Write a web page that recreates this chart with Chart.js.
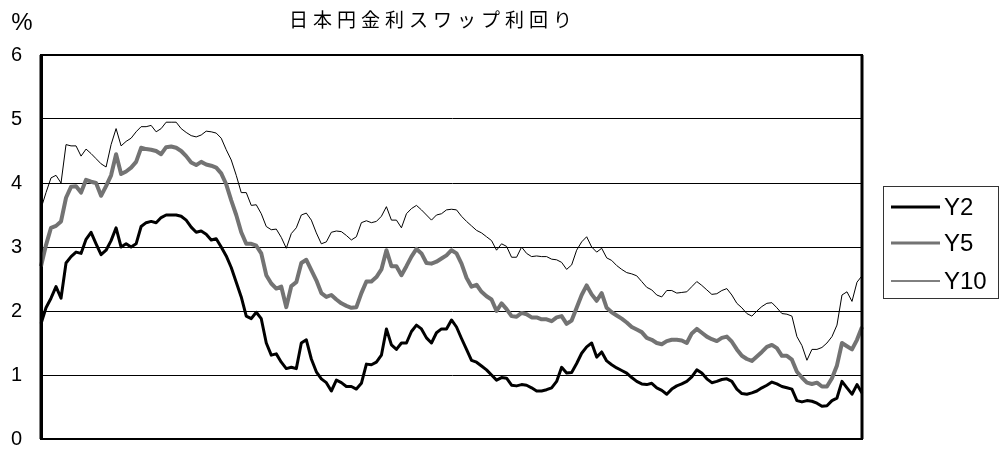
<!DOCTYPE html>
<html>
<head>
<meta charset="utf-8">
<script src="https://cdn.jsdelivr.net/npm/chart.js@4"></script>
<style>
  html, body { margin: 0; padding: 0; background: #fff; }
  canvas { display: block; }
</style>
</head>
<body>
<canvas id="myChart" width="1002" height="449"></canvas>
<script>
// values, one sample every ~5px along the time axis
const y2 = [
  1.8, 2.05, 2.2, 2.38, 2.2, 2.75, 2.85, 2.92, 2.9, 3.12,
  3.23, 3.05, 2.88, 2.95, 3.1, 3.3, 3.0, 3.05, 3.0, 3.05,
  3.32, 3.38, 3.4, 3.38, 3.46, 3.5, 3.5, 3.5, 3.48, 3.42,
  3.31, 3.23, 3.25, 3.2, 3.11, 3.13, 3.0, 2.86, 2.68, 2.45,
  2.22, 1.92, 1.88, 1.98, 1.88, 1.5, 1.31, 1.33, 1.2, 1.1,
  1.12, 1.1, 1.5, 1.55, 1.25, 1.05, 0.94, 0.88, 0.75, 0.92,
  0.88, 0.82, 0.82, 0.78, 0.87, 1.17, 1.16, 1.2, 1.31, 1.72,
  1.47, 1.4, 1.5, 1.5, 1.68, 1.78, 1.72, 1.58, 1.5, 1.66,
  1.72, 1.72, 1.86, 1.75, 1.57, 1.4, 1.23, 1.2, 1.14, 1.08,
  1.0, 0.92, 0.96, 0.95, 0.84, 0.83, 0.85, 0.84, 0.8, 0.75,
  0.75, 0.77, 0.8, 0.9, 1.12, 1.03, 1.04, 1.18, 1.34, 1.44,
  1.5, 1.28, 1.36, 1.22, 1.16, 1.11, 1.07, 1.03, 0.96, 0.9,
  0.86, 0.85, 0.87, 0.8, 0.76, 0.7, 0.78, 0.83, 0.86, 0.9,
  0.97, 1.08, 1.03, 0.94, 0.88, 0.9, 0.93, 0.94, 0.9, 0.78,
  0.71, 0.7, 0.72, 0.75, 0.8, 0.84, 0.89, 0.86, 0.82, 0.8,
  0.78, 0.6, 0.58, 0.6, 0.59, 0.56, 0.51, 0.52, 0.6, 0.64,
  0.9, 0.8, 0.7, 0.85, 0.72
];
const y5 = [
  2.7, 3.03, 3.3, 3.33, 3.4, 3.77, 3.94, 3.95, 3.85, 4.05,
  4.02, 4.0, 3.8, 3.95, 4.12, 4.45, 4.14, 4.18, 4.24, 4.33,
  4.55, 4.53, 4.52, 4.5, 4.45, 4.56, 4.57, 4.55, 4.5, 4.42,
  4.32, 4.28, 4.33, 4.29, 4.27, 4.24, 4.15, 3.98, 3.73, 3.5,
  3.23, 3.05, 3.05, 3.02, 2.9, 2.56, 2.43, 2.35, 2.38, 2.06,
  2.39, 2.45, 2.75, 2.8, 2.64, 2.48, 2.28, 2.22, 2.25, 2.18,
  2.12, 2.08, 2.05, 2.06, 2.28, 2.46, 2.46, 2.53, 2.65, 2.95,
  2.7, 2.7, 2.56, 2.7, 2.85, 2.97, 2.9, 2.75, 2.74, 2.77,
  2.82, 2.87, 2.95, 2.9, 2.74, 2.52, 2.38, 2.41, 2.3, 2.23,
  2.18, 2.0, 2.12, 2.03, 1.92, 1.91, 1.97, 1.95, 1.9, 1.9,
  1.87, 1.87, 1.84, 1.9, 1.92, 1.8, 1.85, 2.05, 2.25, 2.4,
  2.26, 2.16, 2.28, 2.05, 1.98, 1.93, 1.88, 1.82, 1.75, 1.71,
  1.67, 1.58, 1.55, 1.5, 1.48, 1.53, 1.55, 1.55, 1.54, 1.5,
  1.65, 1.72, 1.66, 1.6, 1.56, 1.53, 1.58, 1.6, 1.52, 1.4,
  1.3, 1.25, 1.22, 1.29, 1.36, 1.44, 1.47, 1.42, 1.3, 1.3,
  1.24, 1.05, 0.96, 0.88, 0.86, 0.88, 0.82, 0.82, 0.95, 1.15,
  1.5, 1.45, 1.4, 1.55, 1.75
];
const y10 = [
  3.6, 3.85, 4.08, 4.12, 4.0, 4.6, 4.58, 4.58, 4.42, 4.53,
  4.46, 4.38, 4.3, 4.25, 4.6, 4.85, 4.58, 4.65, 4.7, 4.8,
  4.88, 4.88, 4.9, 4.8, 4.85, 4.95, 4.95, 4.95, 4.85, 4.79,
  4.74, 4.72, 4.75, 4.81, 4.8, 4.78, 4.7, 4.52, 4.36, 4.12,
  3.85, 3.85, 3.65, 3.66, 3.52, 3.32, 3.27, 3.28, 3.15, 2.98,
  3.21, 3.3, 3.5, 3.53, 3.42, 3.22, 3.05, 3.08, 3.23, 3.25,
  3.24, 3.18, 3.11, 3.16, 3.38, 3.41, 3.38, 3.4, 3.48, 3.63,
  3.42, 3.42, 3.3, 3.52, 3.6, 3.65, 3.58, 3.5, 3.42, 3.5,
  3.52, 3.58, 3.59, 3.58, 3.48, 3.4, 3.33, 3.26, 3.22, 3.16,
  3.1, 2.95, 3.05, 3.01, 2.84, 2.84, 3.0, 2.9, 2.85, 2.86,
  2.85, 2.85, 2.81, 2.8, 2.76, 2.65, 2.72, 2.95, 3.08, 3.16,
  3.0, 2.92, 2.98, 2.83, 2.79, 2.71, 2.65, 2.6, 2.58, 2.55,
  2.46, 2.37, 2.33, 2.25, 2.22, 2.32, 2.32, 2.28, 2.29, 2.3,
  2.38, 2.46, 2.4, 2.33, 2.26, 2.27, 2.32, 2.35, 2.25, 2.12,
  2.05, 1.96, 1.92, 2.0, 2.07, 2.12, 2.13, 2.05, 1.96, 1.95,
  1.92, 1.6, 1.46, 1.23, 1.4, 1.4, 1.43, 1.5, 1.6, 1.78,
  2.25, 2.3, 2.15, 2.45, 2.55
];
const yTicks = [0, 1, 2, 3, 4, 5, 6];
const title = '日本円金利スワップ利回り';
const unitLabel = '%';

const labels = y2.map((v, i) => i);

// frame, title, unit and boxed legend like the original spreadsheet chart
const decorations = {
  id: 'decorations',
  afterDraw(chart) {
    const ctx = chart.ctx;
    const a = chart.chartArea;
    ctx.save();

    ctx.strokeStyle = '#000';
    ctx.lineWidth = 2;
    ctx.strokeRect(a.left, a.top, a.right - a.left, a.bottom - a.top);
    ctx.lineWidth = 3;
    ctx.beginPath();
    ctx.moveTo(a.left, a.top); ctx.lineTo(a.left, a.bottom);
    ctx.moveTo(a.right, a.top); ctx.lineTo(a.right, a.bottom);
    ctx.stroke();

    ctx.fillStyle = '#000';
    ctx.font = '19px "Noto Sans CJK JP"';
    ctx.textAlign = 'center';
    ctx.textBaseline = 'middle';
    if ('letterSpacing' in ctx) ctx.letterSpacing = '5px';
    ctx.fillText(title, 433, 20);
    if ('letterSpacing' in ctx) ctx.letterSpacing = '0px';

    ctx.font = '24px "Liberation Sans"';
    ctx.fillText(unitLabel, 22, 23);

    // legend
    const lx = 883, ly = 186, lw = 115, lh = 112;
    ctx.lineWidth = 1;
    ctx.strokeStyle = '#333';
    ctx.strokeRect(lx + 0.5, ly + 0.5, lw, lh);
    ctx.font = '24px "Liberation Sans"';
    ctx.textAlign = 'left';
    const rows = [207, 243, 281];
    chart.data.datasets.forEach((ds, i) => {
      ctx.strokeStyle = ds.borderColor;
      ctx.lineWidth = ds.legendWidth;
      ctx.beginPath();
      ctx.moveTo(891, rows[i]);
      ctx.lineTo(940, rows[i]);
      ctx.stroke();
      ctx.fillStyle = '#000';
      ctx.fillText(ds.label, 944, rows[i] + 1);
    });
    ctx.restore();
  }
};

const ctx = document.getElementById('myChart').getContext('2d');
new Chart(ctx, {
  type: 'line',
  data: {
    labels: labels,
    datasets: [
      { label: 'Y2', data: y2, borderColor: '#000', borderWidth: 3, legendWidth: 3 },
      { label: 'Y5', data: y5, borderColor: '#737373', borderWidth: 4, legendWidth: 3 },
      { label: 'Y10', data: y10, borderColor: '#000', borderWidth: 1, legendWidth: 1 },
    ],
  },
  options: {
    responsive: false,
    animation: false,
    layout: { padding: { left: 0, top: 55, right: 140, bottom: 10 } },
    elements: {
      point: { radius: 0 },
      line: { tension: 0, borderJoinStyle: 'round' },
    },
    plugins: {
      legend: { display: false },
      title: { display: false },
      tooltip: { enabled: false },
    },
    scales: {
      x: { display: false, offset: false },
      y: {
        min: 0,
        max: 6,
        afterBuildTicks(scale) { scale.ticks = yTicks.map(v => ({ value: v })); },
        afterFit(scale) {
          scale.width = 41;
          scale.paddingTop = 0;
          scale.paddingBottom = 0;
        },
        grid: { color: '#000', lineWidth: 1, drawTicks: false },
        border: { display: true, color: '#000', width: 3 },
        ticks: {
          padding: 19,
          color: '#000',
          font: { family: 'Liberation Sans', size: 20 },
        },
      },
    },
  },
  plugins: [decorations],
});
</script>
</body>
</html>
